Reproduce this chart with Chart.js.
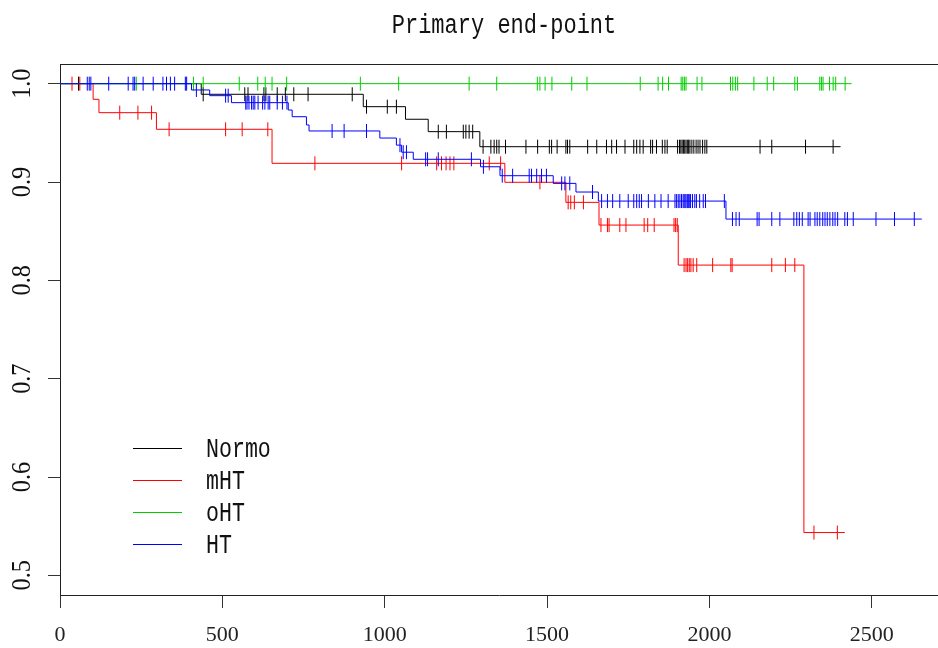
<!DOCTYPE html>
<html><head><meta charset="utf-8">
<script src="https://cdn.jsdelivr.net/npm/chart.js@4.4.1/dist/chart.umd.min.js"></script>
<style>html,body{margin:0;padding:0;background:#fff;}#wrap{width:938px;height:648px;}</style>
</head><body><div id="wrap"><canvas id="c" width="938" height="648"></canvas></div>
<script>
const titleText = 'Primary end-point';
const groupNames = ['Normo', 'mHT', 'oHT', 'HT'];
const groupColors = ['#000000', '#ff0000', '#00cd00', '#0000ff'];
const xTicks = [0, 500, 1000, 1500, 2000, 2500];
const yTicks = [0.5, 0.6, 0.7, 0.8, 0.9, 1.0];

// Normo
const normoEventTimes = [435, 934, 1064, 1134, 1293];
const normoEventSurv = [0.9892, 0.9766, 0.9638, 0.9512, 0.9359];
const normoCensorTimes = [57, 441, 569, 579, 628, 634, 669, 694, 720, 764, 900, 944, 1008, 1036, 1165, 1190, 1242, 1250, 1260, 1271, 1303, 1327, 1337, 1345, 1352, 1372, 1435, 1471, 1507, 1514, 1531, 1558, 1563, 1570, 1625, 1653, 1683, 1699, 1714, 1740, 1767, 1776, 1786, 1796, 1819, 1825, 1837, 1855, 1863, 1870, 1902, 1908, 1912, 1916, 1920, 1924, 1928, 1932, 1936, 1940, 1946, 1952, 1959, 1965, 1971, 1979, 1986, 1992, 2156, 2192, 2296, 2381];
const normoEnd = 2404;

// mHT
const mhtEventTimes = [102, 120, 297, 653, 1370, 1558, 1660, 1904, 2291];
const mhtEventSurv = [0.9841, 0.9705, 0.9536, 0.9190, 0.8997, 0.8793, 0.8562, 0.8155, 0.5435];
const mhtCensorTimes = [37, 61, 184, 240, 282, 336, 510, 561, 640, 785, 1052, 1160, 1175, 1189, 1201, 1213, 1322, 1357, 1478, 1565, 1573, 1584, 1612, 1666, 1686, 1691, 1724, 1743, 1799, 1810, 1830, 1891, 1896, 1901, 1922, 1928, 1933, 1938, 1943, 1950, 1961, 2010, 2066, 2070, 2192, 2234, 2263, 2322, 2394];
const mhtEnd = 2417;

// oHT
const ohtEventTimes = [];
const ohtEventSurv = [];
const ohtCensorTimes = [235, 411, 441, 552, 609, 632, 653, 698, 925, 1043, 1260, 1345, 1470, 1478, 1494, 1515, 1576, 1623, 1787, 1842, 1856, 1874, 1913, 1918, 1923, 1928, 1962, 1977, 2065, 2072, 2080, 2087, 2137, 2178, 2198, 2263, 2271, 2340, 2345, 2350, 2370, 2381, 2389, 2418];
const ohtEnd = 2438;

// HT
const htEventTimes = [405, 461, 528, 703, 715, 759, 767, 985, 1036, 1052, 1088, 1295, 1355, 1519, 1589, 1658, 2051];
const htEventSurv = [0.9936, 0.9878, 0.9807, 0.9732, 0.9664, 0.9580, 0.9519, 0.9447, 0.9375, 0.9303, 0.9231, 0.9155, 0.9064, 0.8986, 0.8898, 0.8806, 0.8623];
const htCensorTimes = [84, 90, 95, 150, 210, 225, 230, 256, 287, 317, 328, 340, 353, 386, 390, 420, 510, 518, 572, 576, 582, 590, 595, 600, 610, 624, 631, 641, 646, 669, 685, 699, 838, 875, 944, 1047, 1057, 1067, 1126, 1132, 1165, 1267, 1304, 1362, 1394, 1445, 1452, 1468, 1483, 1498, 1545, 1555, 1570, 1640, 1668, 1686, 1702, 1724, 1750, 1767, 1776, 1784, 1791, 1812, 1832, 1851, 1873, 1894, 1899, 1904, 1909, 1914, 1919, 1922, 1925, 1928, 1932, 1935, 1938, 1942, 1948, 1955, 1960, 1970, 1981, 1988, 2046, 2071, 2082, 2092, 2147, 2153, 2192, 2217, 2260, 2269, 2277, 2286, 2304, 2310, 2325, 2332, 2340, 2349, 2356, 2363, 2371, 2380, 2387, 2395, 2417, 2425, 2443, 2513, 2570, 2631];
const htEnd = 2654;

const groups = [
  [normoEventTimes, normoEventSurv, normoCensorTimes, normoEnd],
  [mhtEventTimes, mhtEventSurv, mhtCensorTimes, mhtEnd],
  [ohtEventTimes, ohtEventSurv, ohtCensorTimes, ohtEnd],
  [htEventTimes, htEventSurv, htCensorTimes, htEnd]
];

function levelAt(evT, evS, t) {
  let s = 1;
  for (let i = 0; i < evT.length; i++) if (evT[i] <= t) s = evS[i];
  return s;
}
function buildPoints(evT, evS, cT, end) {
  const pts = [{x: 0, y: 1, c: false, k: 0}];
  evT.forEach((t, i) => pts.push({x: t, y: evS[i], c: false, k: 1}));
  cT.forEach(t => pts.push({x: t, y: levelAt(evT, evS, t), c: true, k: 2}));
  pts.push({x: end, y: levelAt(evT, evS, end), c: false, k: 3});
  pts.sort((a, b) => a.x - b.x || a.k - b.k);
  return pts;
}

const datasets = groups.map((g, i) => ({
  label: groupNames[i],
  data: buildPoints(g[0], g[1], g[2], g[3]),
  borderColor: groupColors[i],
  backgroundColor: groupColors[i],
  borderWidth: 1,
  stepped: true,
  fill: false,
  tension: 0,
  order: groups.length - 1 - i,
  pointStyle: 'line',
  pointRotation: 90,
  pointRadius: ctx => (ctx.raw && ctx.raw.c) ? 7 : 0,
  pointBorderWidth: 1,
  pointBorderColor: groupColors[i],
  pointHoverRadius: 0,
  pointHitRadius: 0
}));

const decor = {
  id: 'decor',
  afterDraw(chart) {
    const ctx = chart.ctx, a = chart.chartArea, ys = chart.scales.y;
    ctx.save();
    ctx.strokeStyle = '#222'; ctx.lineWidth = 1;
    ctx.beginPath(); ctx.moveTo(a.left, Math.round(a.top) + 0.5); ctx.lineTo(a.right, Math.round(a.top) + 0.5); ctx.stroke();
    // title
    ctx.fillStyle = '#111';
    ctx.font = '27px "Liberation Mono"';
    ctx.textAlign = 'center'; ctx.textBaseline = 'middle';
    ctx.save(); ctx.translate(504, 26); ctx.scale(0.815, 1); ctx.fillText(titleText, 0, 0); ctx.restore();
    // y tick labels (rotated)
    ctx.font = '27px "Liberation Serif"';
    ys.ticks.forEach(t => {
      const py = ys.getPixelForValue(t.value);
      ctx.save(); ctx.translate(23, py); ctx.rotate(-Math.PI / 2); ctx.scale(0.9, 1);
      ctx.fillText(t.value.toFixed(1), 0, 0); ctx.restore();
    });
    // legend
    ctx.font = '27px "Liberation Mono"';
    ctx.textAlign = 'left';
    groupNames.forEach((n, i) => {
      const ly = 448 + i * 31.9;
      ctx.strokeStyle = groupColors[i];
      ctx.beginPath(); ctx.moveTo(133, Math.round(ly) + 0.5); ctx.lineTo(182, Math.round(ly) + 0.5); ctx.stroke();
      ctx.save(); ctx.translate(206, ly + 2); ctx.scale(0.8, 1); ctx.fillStyle = '#111'; ctx.fillText(n, 0, 0); ctx.restore();
    });
    ctx.restore();
  }
};

new Chart(document.getElementById('c'), {
  type: 'line',
  data: {datasets},
  options: {
    responsive: false,
    animation: false,
    events: [],
    layout: {padding: {top: 64, left: 0, right: 0, bottom: 0}},
    plugins: {legend: {display: false}, title: {display: false}, tooltip: {enabled: false}},
    scales: {
      x: {
        type: 'linear', min: 0, max: 2704,
        afterBuildTicks: s => { s.ticks = xTicks.map(v => ({value: v})); },
        afterFit: s => { s.height = 53; },
        ticks: {autoSkip: false, maxRotation: 0, minRotation: 0, padding: 14, color: '#222',
                font: {family: 'Liberation Serif', size: 22}, callback: v => String(v)},
        grid: {display: true, drawOnChartArea: false, drawTicks: true, tickLength: 13, color: '#333', lineWidth: 1},
        border: {display: true, color: '#222', width: 1}
      },
      y: {
        type: 'linear', min: 0.48, max: 1.02,
        afterBuildTicks: s => { s.ticks = yTicks.map(v => ({value: v})); },
        afterFit: s => { s.width = 60; },
        ticks: {display: false},
        grid: {display: true, drawOnChartArea: false, drawTicks: true, tickLength: 12, color: '#333', lineWidth: 1},
        border: {display: true, color: '#222', width: 1}
      }
    }
  },
  plugins: [decor]
});
</script>
</body></html>
